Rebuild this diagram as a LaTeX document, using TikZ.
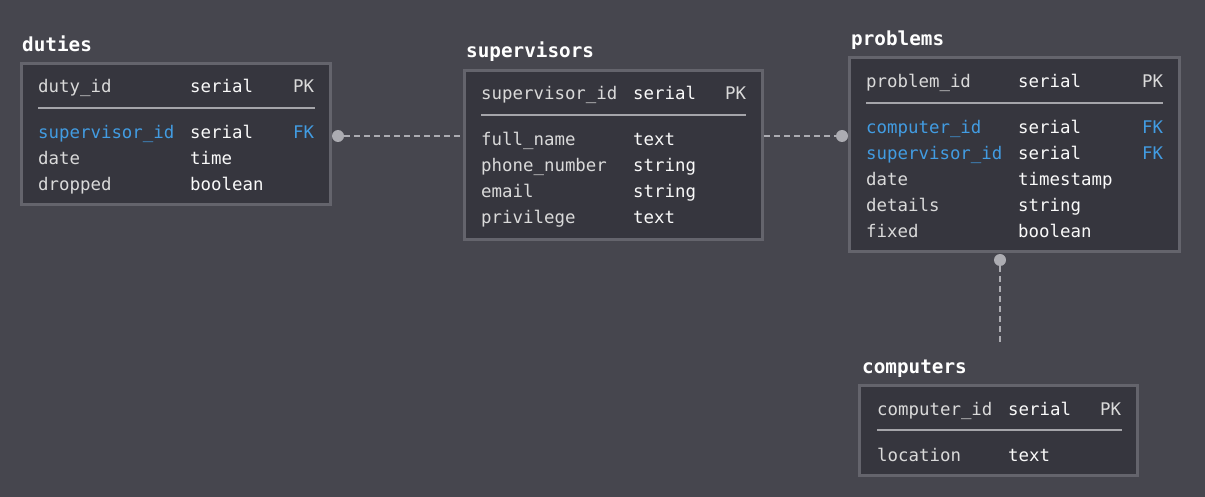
\documentclass[tikz,border=0pt]{standalone}
\usepackage{fontspec}
\setmonofont{DejaVu Sans Mono}
\definecolor{bgcol}{RGB}{70,70,78}
\definecolor{tblfill}{RGB}{54,54,62}
\definecolor{tblborder}{RGB}{100,100,108}
\definecolor{sepcol}{RGB}{165,165,170}
\definecolor{namecol}{RGB}{218,218,218}
\definecolor{typecol}{RGB}{250,250,250}
\definecolor{fkblue}{RGB}{66,156,226}
\definecolor{linkcol}{RGB}{172,172,178}

\begin{document}
\begin{tikzpicture}[x=1pt,y=-1pt,
  tbl/.style={draw=tblborder,fill=tblfill,line width=3pt,anchor=north west,inner sep=0pt},
  title/.style={anchor=base west,inner sep=0pt,text=white,font=\ttfamily\bfseries\fontsize{19.3}{20}\selectfont},
  col/.style={anchor=base west,inner sep=0pt,text=namecol,font=\ttfamily\fontsize{17.4}{18}\selectfont},
  typ/.style={col,text=typecol},
  fk/.style={col,text=fkblue},
  sep/.style={draw=sepcol,line width=2pt},
  link/.style={draw=linkcol,line width=2pt,dash pattern=on 6pt off 4pt},
  dot/.style={circle,fill=linkcol,inner sep=0pt,minimum size=12pt}]
\fill[bgcol] (0,0) rectangle (1205,497);

% duties
\node[title] (dutiestitle) at (22,52) {duties};
\node[tbl,minimum width=309pt,minimum height=141pt] (duties) at (20,62) {};
\draw[sep] (38,108) -- (315,108);
\foreach \s/\n/\t/\k/\y [count=\i] in {col/duty\_id/serial/PK/93, fk/supervisor\_id/serial/FK/139,
    col/date/time//165, col/dropped/boolean//191} {
  \node[\s] (duties-n\i) at (38,\y) {\n};
  \node[typ] (duties-t\i) at (190,\y) {\t};
  \node[\s] (duties-k\i) at (293,\y) {\k};
}

% supervisors
\node[title] (supervisorstitle) at (466,58) {supervisors};
\node[tbl,minimum width=298pt,minimum height=169pt] (supervisors) at (463,69) {};
\draw[sep] (481,115.5) -- (746,115.5);
\foreach \n/\t/\k/\y [count=\i] in {supervisor\_id/serial/PK/100, full\_name/text//146,
    phone\_number/string//172, email/string//198, privilege/text//224} {
  \node[col] (supervisors-n\i) at (481,\y) {\n};
  \node[typ] (supervisors-t\i) at (633,\y) {\t};
  \node[col] (supervisors-k\i) at (725,\y) {\k};
}

% problems
\node[title] (problemstitle) at (851,46) {problems};
\node[tbl,minimum width=330pt,minimum height=194pt] (problems) at (848,56) {};
\draw[sep] (866,103) -- (1163,103);
\foreach \s/\n/\t/\k/\y [count=\i] in {col/problem\_id/serial/PK/88, fk/computer\_id/serial/FK/134,
    fk/supervisor\_id/serial/FK/160, col/date/timestamp//186, col/details/string//212,
    col/fixed/boolean//238} {
  \node[\s] (problems-n\i) at (866,\y) {\n};
  \node[typ] (problems-t\i) at (1018,\y) {\t};
  \node[\s] (problems-k\i) at (1142,\y) {\k};
}

% computers
\node[title] (computerstitle) at (862,373) {computers};
\node[tbl,minimum width=278pt,minimum height=90pt] (computers) at (858,384) {};
\draw[sep] (877,430) -- (1122,430);
\foreach \n/\t/\k/\y [count=\i] in {computer\_id/serial/PK/415, location/text//461} {
  \node[col] (computers-n\i) at (877,\y) {\n};
  \node[typ] (computers-t\i) at (1008,\y) {\t};
  \node[col] (computers-k\i) at (1100,\y) {\k};
}

% links
\node[dot] (dsdot) at (338,136) {};
\draw[link] (dsdot) -- (supervisors.west |- dsdot);
\node[dot] (spdot) at (842,136) {};
\draw[link] (supervisors.east |- spdot) -- (spdot);
\node[dot] (pcdot) at (1000,260) {};
\coordinate (pcend) at (1000,345);
\draw[link] (pcdot) -- (pcend);
\end{tikzpicture}
\end{document}
